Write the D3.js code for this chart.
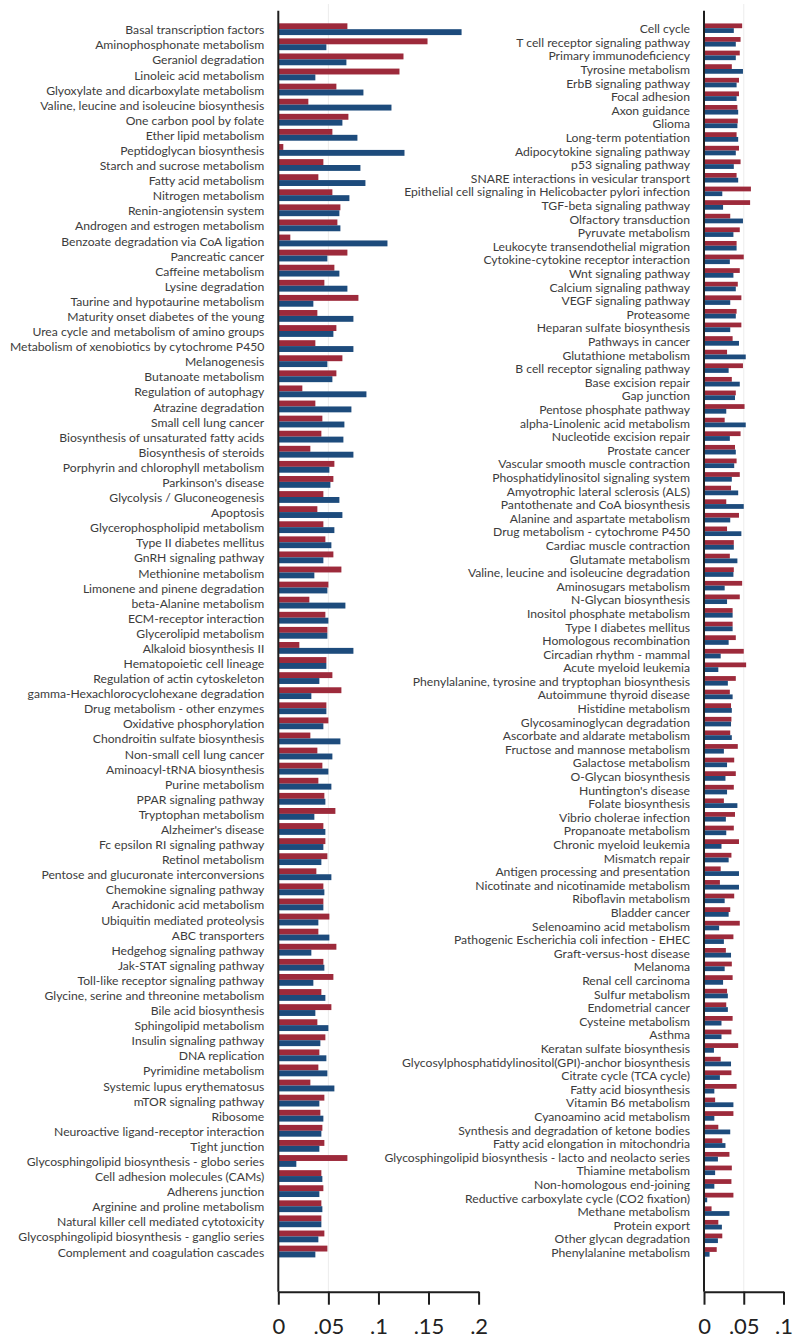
<!DOCTYPE html>
<html>
<head>
<meta charset="utf-8">
<script src="https://cdn.jsdelivr.net/npm/d3@7"></script>
<style>
  html, body { margin: 0; padding: 0; background: #fff; }
  svg { display: block; }
</style>
</head>
<body>
<svg id="chart" width="794" height="1341"></svg>
<script>
// ---------------- DATA ----------------
const leftCategories = [
  "Basal transcription factors","Aminophosphonate metabolism","Geraniol degradation","Linoleic acid metabolism",
  "Glyoxylate and dicarboxylate metabolism","Valine, leucine and isoleucine biosynthesis","One carbon pool by folate",
  "Ether lipid metabolism","Peptidoglycan biosynthesis","Starch and sucrose metabolism","Fatty acid metabolism",
  "Nitrogen metabolism","Renin-angiotensin system","Androgen and estrogen metabolism","Benzoate degradation via CoA ligation",
  "Pancreatic cancer","Caffeine metabolism","Lysine degradation","Taurine and hypotaurine metabolism",
  "Maturity onset diabetes of the young","Urea cycle and metabolism of amino groups","Metabolism of xenobiotics by cytochrome P450",
  "Melanogenesis","Butanoate metabolism","Regulation of autophagy","Atrazine degradation","Small cell lung cancer",
  "Biosynthesis of unsaturated fatty acids","Biosynthesis of steroids","Porphyrin and chlorophyll metabolism",
  "Parkinson's disease","Glycolysis / Gluconeogenesis","Apoptosis","Glycerophospholipid metabolism",
  "Type II diabetes mellitus","GnRH signaling pathway","Methionine metabolism","Limonene and pinene degradation",
  "beta-Alanine metabolism","ECM-receptor interaction","Glycerolipid metabolism","Alkaloid biosynthesis II",
  "Hematopoietic cell lineage","Regulation of actin cytoskeleton","gamma-Hexachlorocyclohexane degradation",
  "Drug metabolism - other enzymes","Oxidative phosphorylation","Chondroitin sulfate biosynthesis",
  "Non-small cell lung cancer","Aminoacyl-tRNA biosynthesis","Purine metabolism","PPAR signaling pathway",
  "Tryptophan metabolism","Alzheimer's disease","Fc epsilon RI signaling pathway","Retinol metabolism",
  "Pentose and glucuronate interconversions","Chemokine signaling pathway","Arachidonic acid metabolism",
  "Ubiquitin mediated proteolysis","ABC transporters","Hedgehog signaling pathway","Jak-STAT signaling pathway",
  "Toll-like receptor signaling pathway","Glycine, serine and threonine metabolism","Bile acid biosynthesis",
  "Sphingolipid metabolism","Insulin signaling pathway","DNA replication","Pyrimidine metabolism",
  "Systemic lupus erythematosus","mTOR signaling pathway","Ribosome","Neuroactive ligand-receptor interaction",
  "Tight junction","Glycosphingolipid biosynthesis - globo series","Cell adhesion molecules (CAMs)",
  "Adherens junction","Arginine and proline metabolism","Natural killer cell mediated cytotoxicity",
  "Glycosphingolipid biosynthesis - ganglio series","Complement and coagulation cascades"
];
const leftRed = [
  0.069,0.149,0.125,0.121,0.058,0.030,0.070,0.054,0.005,0.045,0.040,
  0.054,0.062,0.059,0.012,0.069,0.056,0.046,0.080,0.039,0.058,0.037,
  0.064,0.058,0.024,0.037,0.044,0.043,0.032,0.056,0.055,0.045,0.039,
  0.045,0.047,0.055,0.063,0.050,0.031,0.047,0.049,0.021,
  0.048,0.054,0.063,0.048,0.050,0.032,0.039,0.044,0.040,0.046,
  0.057,0.045,0.047,0.049,0.038,0.045,0.045,0.051,0.040,0.058,
  0.045,0.055,0.043,0.053,0.039,0.047,0.041,0.040,0.032,0.046,
  0.042,0.044,0.046,0.069,0.043,0.045,0.043,0.043,0.046,0.049
];
const leftBlue = [
  0.183,0.048,0.068,0.037,0.085,0.113,0.064,0.079,0.126,0.082,0.087,
  0.071,0.061,0.062,0.109,0.049,0.061,0.069,0.035,0.075,0.055,0.075,
  0.049,0.054,0.088,0.073,0.066,0.065,0.075,0.051,0.052,0.061,0.064,
  0.056,0.053,0.045,0.036,0.049,0.067,0.050,0.049,0.075,
  0.048,0.041,0.033,0.048,0.045,0.062,0.054,0.050,0.053,0.047,
  0.036,0.047,0.045,0.043,0.053,0.046,0.045,0.040,0.051,0.033,
  0.046,0.035,0.047,0.037,0.050,0.042,0.048,0.049,0.056,0.041,
  0.045,0.043,0.041,0.018,0.044,0.041,0.044,0.043,0.040,0.037
];

const rightCategories = [
  "Cell cycle","T cell receptor signaling pathway","Primary immunodeficiency","Tyrosine metabolism",
  "ErbB signaling pathway","Focal adhesion","Axon guidance","Glioma","Long-term potentiation",
  "Adipocytokine signaling pathway","p53 signaling pathway","SNARE interactions in vesicular transport",
  "Epithelial cell signaling in Helicobacter pylori infection","TGF-beta signaling pathway","Olfactory transduction",
  "Pyruvate metabolism","Leukocyte transendothelial migration","Cytokine-cytokine receptor interaction",
  "Wnt signaling pathway","Calcium signaling pathway","VEGF signaling pathway","Proteasome",
  "Heparan sulfate biosynthesis","Pathways in cancer","Glutathione metabolism","B cell receptor signaling pathway",
  "Base excision repair","Gap junction","Pentose phosphate pathway","alpha-Linolenic acid metabolism",
  "Nucleotide excision repair","Prostate cancer","Vascular smooth muscle contraction",
  "Phosphatidylinositol signaling system","Amyotrophic lateral sclerosis (ALS)","Pantothenate and CoA biosynthesis",
  "Alanine and aspartate metabolism","Drug metabolism - cytochrome P450","Cardiac muscle contraction",
  "Glutamate metabolism","Valine, leucine and isoleucine degradation","Aminosugars metabolism",
  "N-Glycan biosynthesis","Inositol phosphate metabolism","Type I diabetes mellitus","Homologous recombination",
  "Circadian rhythm - mammal","Acute myeloid leukemia","Phenylalanine, tyrosine and tryptophan biosynthesis",
  "Autoimmune thyroid disease","Histidine metabolism","Glycosaminoglycan degradation",
  "Ascorbate and aldarate metabolism","Fructose and mannose metabolism","Galactose metabolism",
  "O-Glycan biosynthesis","Huntington's disease","Folate biosynthesis","Vibrio cholerae infection",
  "Propanoate metabolism","Chronic myeloid leukemia","Mismatch repair","Antigen processing and presentation",
  "Nicotinate and nicotinamide metabolism","Riboflavin metabolism","Bladder cancer","Selenoamino acid metabolism",
  "Pathogenic Escherichia coli infection - EHEC","Graft-versus-host disease","Melanoma","Renal cell carcinoma",
  "Sulfur metabolism","Endometrial cancer","Cysteine metabolism","Asthma","Keratan sulfate biosynthesis",
  "Glycosylphosphatidylinositol(GPI)-anchor biosynthesis","Citrate cycle (TCA cycle)","Fatty acid biosynthesis",
  "Vitamin B6 metabolism","Cyanoamino acid metabolism","Synthesis and degradation of ketone bodies",
  "Fatty acid elongation in mitochondria","Glycosphingolipid biosynthesis - lacto and neolacto series",
  "Thiamine metabolism","Non-homologous end-joining","Reductive carboxylate cycle (CO2 fixation)",
  "Methane metabolism","Protein export","Other glycan degradation","Phenylalanine metabolism"
];
const rightRed = [
  0.048,0.046,0.045,0.035,0.044,0.044,0.042,0.0425,0.041,0.044,0.046,0.041,
  0.059,0.058,0.033,0.045,0.041,0.050,0.045,0.0425,0.047,0.041,0.047,
  0.036,0.029,0.049,0.035,0.040,0.051,0.026,0.046,0.039,0.041,0.045,0.034,
  0.028,0.044,0.029,0.0375,0.0325,0.0375,0.048,0.045,0.036,0.036,0.040,
  0.050,0.053,0.040,0.0325,0.034,0.0345,0.033,0.0425,0.038,0.040,0.0375,
  0.025,0.039,0.0375,0.044,0.0345,0.021,0.020,0.038,0.033,0.045,0.037,0.0275,
  0.035,0.036,0.029,0.028,0.036,0.0345,0.043,0.021,0.0345,0.041,0.014,
  0.037,0.018,0.023,0.032,0.035,0.0345,0.037,0.0095,0.018,0.023,0.016
];
const rightBlue = [
  0.0375,0.040,0.040,0.049,0.041,0.041,0.043,0.042,0.043,0.040,0.0375,0.043,
  0.023,0.024,0.049,0.037,0.041,0.0325,0.037,0.040,0.033,0.040,0.033,
  0.044,0.0525,0.031,0.045,0.039,0.028,0.0525,0.0325,0.040,0.038,0.035,0.043,
  0.050,0.033,0.047,0.0375,0.042,0.037,0.026,0.029,0.036,0.036,0.031,
  0.021,0.018,0.030,0.036,0.035,0.034,0.035,0.025,0.029,0.027,0.029,
  0.042,0.0275,0.028,0.022,0.031,0.044,0.044,0.026,0.031,0.019,0.025,0.034,
  0.026,0.024,0.030,0.030,0.022,0.022,0.0125,0.034,0.020,0.013,0.037,
  0.013,0.033,0.027,0.0175,0.014,0.013,0.004,0.032,0.0225,0.0175,0.007
];

const leftTickValues = [0, 0.05, 0.1, 0.15, 0.2];
const leftTickLabels = ["0", ".05", ".1", ".15", ".2"];
const rightTickValues = [0, 0.05, 0.1];
const rightTickLabels = ["0", ".05", ".1"];
const seriesKeys = ["red", "blue"];
const seriesColors = ["#9d2a3b", "#1d4b7c"];

// ---------------- DRAW ----------------
const svg = d3.select("#chart");
const axisY = 1291.7;

// fit label font size to the reference widths
const probe = svg.append("text").attr("font-family", "Lato, 'Open Sans', sans-serif").attr("font-size", 100);
probe.text("Epithelial cell signaling in Helicobacter pylori infection");
const w1 = probe.node().getComputedTextLength();
probe.text("Metabolism of xenobiotics by cytochrome P450");
const w2 = probe.node().getComputedTextLength();
probe.remove();
const labelSize = 100 * ((287 / w1) + (254 / w2)) / 2;

function drawPanel(cfg) {
  const x = d3.scaleLinear().domain([0, cfg.max]).range([cfg.x0, cfg.x1]);
  const y = d3.scaleBand().domain(cfg.cats).range([cfg.yTop, cfg.yBottom])
    .paddingInner(cfg.pad).paddingOuter(cfg.pad / 2);
  const ySub = d3.scaleBand().domain(seriesKeys).range([0, y.bandwidth()]);
  const color = d3.scaleOrdinal().domain(seriesKeys).range(seriesColors);

  const g = svg.append("g");

  // faint gridline
  g.append("line")
    .attr("x1", x(0.05)).attr("x2", x(0.05))
    .attr("y1", 4).attr("y2", axisY)
    .attr("stroke", "#ececec").attr("stroke-width", 1);

  const rows = cfg.cats.map((c, i) => ({ cat: c, red: cfg.red[i], blue: cfg.blue[i] }));

  const rowG = g.selectAll("g.row").data(rows).join("g")
    .attr("class", "row")
    .attr("transform", d => `translate(0,${y(d.cat) - 0.8})`);

  rowG.selectAll("rect").data(d => seriesKeys.map(k => ({ key: k, value: d[k] }))).join("rect")
    .attr("x", x(0))
    .attr("y", d => ySub(d.key))
    .attr("width", d => x(d.value) - x(0))
    .attr("height", ySub.bandwidth())
    .attr("fill", d => color(d.key));

  // labels
  g.selectAll("text.lbl").data(cfg.cats).join("text")
    .attr("class", "lbl")
    .attr("x", cfg.x0 - 14)
    .attr("y", d => y(d) + y.bandwidth() / 2)
    .attr("dy", "0.35em")
    .attr("text-anchor", "end")
    .attr("font-family", "Lato, 'Open Sans', sans-serif")
    .attr("font-size", labelSize)
    .attr("fill", "#3c3c3c")
    .text(d => d);

  // vertical axis line
  g.append("line")
    .attr("x1", x(0)).attr("x2", x(0))
    .attr("y1", 10.7).attr("y2", axisY)
    .attr("stroke", "#1e1e1e").attr("stroke-width", 2);

  // bottom axis
  const ax = d3.axisBottom(x)
    .tickValues(cfg.ticks)
    .tickFormat((d, i) => cfg.tickLabels[i])
    .tickSize(13).tickSizeOuter(0).tickPadding(14);
  const axG = g.append("g").attr("transform", `translate(0,${axisY})`).call(ax);
  axG.select(".domain").attr("stroke", "#1e1e1e").attr("stroke-width", 2);
  axG.selectAll(".tick line").attr("stroke", "#1e1e1e").attr("stroke-width", 2);
  axG.selectAll(".tick text")
    .attr("font-family", "Lato, 'Open Sans', sans-serif")
    .attr("font-size", 22)
    .attr("fill", "#222");
}

drawPanel({
  cats: leftCategories, red: leftRed, blue: leftBlue,
  x0: 278.3, x1: 478.6, max: 0.2,
  yTop: 22.45, yBottom: 1259.85, pad: 0.22,
  ticks: leftTickValues, tickLabels: leftTickLabels
});
drawPanel({
  cats: rightCategories, red: rightRed, blue: rightBlue,
  x0: 704, x1: 783.5, max: 0.1,
  yTop: 22.2, yBottom: 1259.5, pad: 0.3,
  ticks: rightTickValues, tickLabels: rightTickLabels
});
</script>
</body>
</html>
